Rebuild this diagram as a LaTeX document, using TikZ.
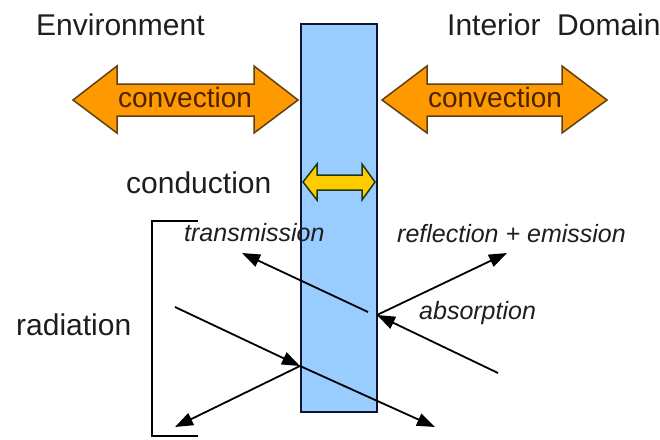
\documentclass[tikz,border=0pt]{standalone}
\usepackage{fontspec}
\setmainfont{Liberation Sans}
\usetikzlibrary{arrows.meta}
\definecolor{convfill}{RGB}{255,153,0}
\definecolor{convline}{RGB}{95,65,20}
\definecolor{convtext}{RGB}{75,35,0}
\definecolor{wallfill}{RGB}{153,204,255}
\definecolor{wallline}{RGB}{15,20,50}
\definecolor{condfill}{RGB}{255,204,0}
\definecolor{condline}{RGB}{30,55,25}
\definecolor{txt}{RGB}{30,30,30}
\begin{document}
\begin{tikzpicture}[x=1pt,y=-1pt,
  lbl/.style={inner sep=0pt, anchor=base west, text=txt, font=\fontsize{30}{36}\selectfont},
  ilbl/.style={inner sep=0pt, anchor=base west, text=txt, font=\fontsize{25}{30}\selectfont\itshape},
  clbl/.style={inner sep=0pt, anchor=base, text=convtext, font=\fontsize{28}{34}\selectfont},
  ray/.style={line width=1.8pt, draw=black, -{Triangle[length=18pt,width=13pt]}},
  bigarrow/.style={fill=convfill, draw=convline, line width=1.5pt, line join=miter},
  condarrow/.style={fill=condfill, draw=condline, line width=1.5pt, line join=miter},
  wallbox/.style={fill=wallfill, draw=wallline, line width=1.8pt},
  brk/.style={line width=1.8pt, draw=black}
]
\useasboundingbox[fill=white] (0,0) rectangle (660,439);

% wall
\draw[wallbox] (301,24) rectangle (377,412);

% convection arrows
\draw[bigarrow] (73,100) -- (117,66) -- (117,84) -- (254,84) -- (254,66) -- (298,100)
  -- (254,133) -- (254,116) -- (117,116) -- (117,133) -- cycle;
\draw[bigarrow] (382,100) -- (427,66) -- (427,84) -- (562,84) -- (562,66) -- (607,100)
  -- (562,133) -- (562,116) -- (427,116) -- (427,133) -- cycle;
\node[clbl] (conv1) at (185,107) {convection};
\node[clbl] (conv2) at (495,107) {convection};

% conduction arrow
\draw[condarrow] (303,182) -- (317,164) -- (317,175) -- (362,175) -- (362,164) -- (375,182)
  -- (362,200) -- (362,190) -- (317,190) -- (317,200) -- cycle;

% labels
\node[lbl] (env) at (36,35) {Environment};
\node[lbl] (interior) at (447,35) {Interior\ \ Domain};
\node[lbl] (cond) at (126,193) {conduction};
\node[lbl] (rad) at (16,335) {radiation};
\node[ilbl] (trans) at (184,241) {transmission};
\node[ilbl] (refl) at (397,242) {reflection + emission};
\node[ilbl] (abs) at (419,319) {absorption};

% bracket
\coordinate (bt) at (198,221);
\coordinate (bb) at (198,436);
\draw[brk] (bt) -- (152,221) -- (152,436) -- (bb);

% radiation rays
\coordinate (hitL) at (300,366);
\coordinate (hitR) at (377,315);
\coordinate (inL) at (175,307);
\coordinate (outLL) at (175,427);
\coordinate (outLR) at (435,427);
\coordinate (inR) at (498,373);
\coordinate (outRR) at (507,253);
\coordinate (startT) at (368,312);
\coordinate (outRL) at (242,253);

\draw[ray] (inL) -- (hitL);
\draw[ray] (hitL) -- (outLL);
\draw[ray] (hitL) -- (outLR);
\draw[ray] (inR) -- (hitR);
\draw[ray] (hitR) -- (outRR);
\draw[ray] (startT) -- (outRL);
\end{tikzpicture}
\end{document}
